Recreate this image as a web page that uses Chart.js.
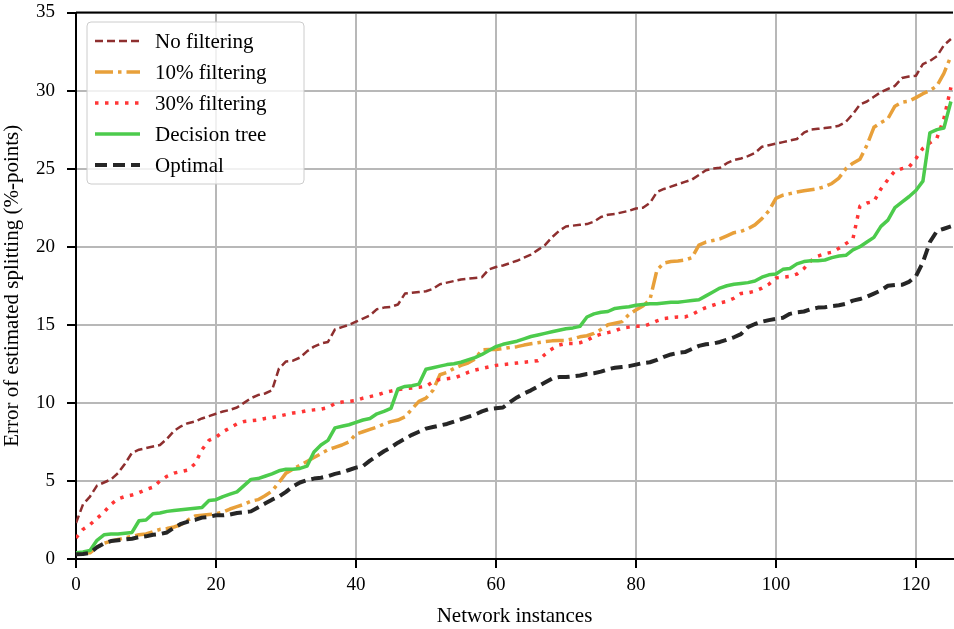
<!DOCTYPE html>
<html>
<head>
<meta charset="utf-8">
<script src="https://cdn.jsdelivr.net/npm/chart.js@4.4.0/dist/chart.umd.min.js"></script>
<style>
  body { margin: 0; background: #fff; }
  .wrap { width: 954px; height: 629px; }
</style>
</head>
<body>
<div class="wrap"><canvas id="myChart"></canvas></div>
<script>
// データ
const noFiltering = [
  2.3, 3.5, 4.0, 4.7, 4.9, 5.1, 5.5, 6.1, 6.8, 7.0,
  7.1, 7.2, 7.3, 7.7, 8.2, 8.5, 8.7, 8.8, 9.0, 9.15,
  9.3, 9.45, 9.55, 9.7, 10.0, 10.3, 10.5, 10.6, 10.8, 12.2,
  12.65, 12.7, 12.9, 13.3, 13.6, 13.8, 13.9, 14.7, 14.85, 15.0,
  15.2, 15.4, 15.6, 16.0, 16.1, 16.15, 16.3, 17.0, 17.05, 17.1,
  17.15, 17.3, 17.6, 17.7, 17.8, 17.9, 17.95, 18.0, 18.05, 18.55,
  18.7, 18.8, 18.95, 19.1, 19.3, 19.5, 19.8, 20.1, 20.6, 21.0,
  21.3, 21.35, 21.4, 21.45, 21.6, 21.9, 22.05, 22.1, 22.2, 22.3,
  22.45, 22.5, 22.8, 23.5, 23.7, 23.85, 24.0, 24.15, 24.3, 24.6,
  24.9, 25.0, 25.05, 25.35, 25.55, 25.65, 25.8, 26.0, 26.4, 26.5,
  26.6, 26.7, 26.8, 26.9, 27.3, 27.5, 27.55, 27.6, 27.65, 27.75,
  28.0, 28.5, 29.1, 29.3, 29.6, 29.9, 30.1, 30.3, 30.8, 30.9,
  30.95, 31.7, 31.9, 32.2, 32.9, 33.3
];
const filtering10 = [
  0.35, 0.38, 0.4, 0.75, 1.0, 1.15, 1.25, 1.35, 1.45, 1.55,
  1.6, 1.75, 1.9, 1.95, 2.05, 2.2, 2.5, 2.75, 2.8, 2.85,
  2.9, 3.0, 3.2, 3.35, 3.5, 3.7, 3.8, 4.05, 4.35, 4.9,
  5.5, 5.75, 6.0, 6.25, 6.5, 6.75, 7.0, 7.15, 7.3, 7.5,
  8.0, 8.15, 8.3, 8.45, 8.65, 8.8, 8.9, 9.1, 9.6, 10.1,
  10.3, 10.8, 11.8, 11.95, 12.2, 12.4, 12.55, 12.8, 13.4, 13.42,
  13.42, 13.48, 13.55, 13.6, 13.7, 13.78, 13.85, 13.92, 13.97, 14.0,
  14.0, 14.1, 14.23, 14.3, 14.45, 14.7, 15.0, 15.1, 15.2, 15.65,
  15.95, 16.2, 16.6, 18.5, 18.95, 19.05, 19.08, 19.15, 19.3, 20.1,
  20.3, 20.4, 20.5, 20.7, 20.9, 20.98, 21.15, 21.4, 21.8, 22.3,
  23.1, 23.3, 23.4, 23.5, 23.58, 23.65, 23.72, 23.85, 24.05, 24.4,
  25.0, 25.35, 25.6, 26.5, 27.65, 27.95, 28.2, 29.0, 29.25, 29.32,
  29.55, 29.8, 30.0, 30.3, 31.1, 32.2
];
const filtering30 = [
  1.35, 1.9, 2.2, 2.6, 3.0, 3.5, 3.85, 4.0, 4.1, 4.25,
  4.45, 4.6, 5.0, 5.3, 5.5, 5.6, 5.7, 6.1, 7.0, 7.6,
  7.8, 8.15, 8.4, 8.65, 8.8, 8.85, 8.9, 9.0, 9.05, 9.15,
  9.25, 9.35, 9.4, 9.5, 9.55, 9.6, 9.7, 9.95, 10.05, 10.1,
  10.15, 10.3, 10.4, 10.5, 10.65, 10.75, 10.85, 10.9, 10.95, 11.0,
  11.05, 11.35, 11.5, 11.55, 11.6, 11.75, 11.95, 12.1, 12.2, 12.3,
  12.4, 12.45, 12.5, 12.55, 12.6, 12.65, 12.7, 13.1, 13.45, 13.7,
  13.8, 13.8, 13.85, 14.0, 14.25, 14.4, 14.5, 14.6, 14.8, 14.85,
  14.9, 14.9, 15.05, 15.25, 15.4, 15.45, 15.5, 15.5, 15.65, 15.9,
  16.1, 16.25, 16.4, 16.5, 16.7, 17.0, 17.05, 17.15, 17.35, 17.6,
  18.0, 18.05, 18.1, 18.25, 18.6, 19.1, 19.4, 19.55, 19.65, 19.9,
  20.2, 20.5, 22.6, 22.8, 22.9, 23.7, 24.3, 24.85, 25.0, 25.1,
  25.65, 26.3, 26.65, 26.95, 28.2, 30.2
];
const decisionTree = [
  0.4, 0.45, 0.55, 1.2, 1.55, 1.6, 1.6, 1.65, 1.7, 2.45,
  2.5, 2.9, 2.95, 3.05, 3.1, 3.15, 3.2, 3.25, 3.3, 3.75,
  3.8, 4.0, 4.15, 4.3, 4.7, 5.1, 5.15, 5.3, 5.45, 5.65,
  5.75, 5.75, 5.8, 5.95, 6.85, 7.3, 7.6, 8.4, 8.5, 8.6,
  8.75, 8.9, 9.0, 9.3, 9.45, 9.65, 10.9, 11.05, 11.1, 11.2,
  12.15, 12.25, 12.35, 12.45, 12.5, 12.6, 12.75, 12.9, 13.1, 13.35,
  13.6, 13.75, 13.85, 13.95, 14.1, 14.25, 14.35, 14.45, 14.55, 14.65,
  14.75, 14.8, 14.9, 15.5, 15.7, 15.8, 15.85, 16.05, 16.1, 16.15,
  16.25, 16.3, 16.35, 16.35, 16.4, 16.45, 16.45, 16.5, 16.55, 16.6,
  16.85, 17.1, 17.35, 17.5, 17.6, 17.65, 17.7, 17.8, 18.05, 18.2,
  18.25, 18.55, 18.6, 18.9, 19.05, 19.1, 19.1, 19.15, 19.3, 19.4,
  19.45, 19.8, 20.0, 20.3, 20.6, 21.3, 21.7, 22.5, 22.85, 23.2,
  23.6, 24.2, 27.3, 27.5, 27.6, 29.3
];
const optimal = [
  0.3, 0.32, 0.38, 0.75, 1.0, 1.15, 1.2, 1.25, 1.3, 1.4,
  1.45, 1.55, 1.6, 1.7, 2.0, 2.25, 2.4, 2.5, 2.65, 2.7,
  2.8, 2.8, 2.85, 2.95, 3.0, 3.05, 3.3, 3.55, 3.8, 4.0,
  4.3, 4.65, 4.9, 5.05, 5.15, 5.2, 5.3, 5.45, 5.55, 5.7,
  5.85, 5.95, 6.3, 6.6, 6.9, 7.15, 7.45, 7.7, 7.95, 8.15,
  8.35, 8.45, 8.55, 8.65, 8.8, 8.95, 9.1, 9.25, 9.45, 9.6,
  9.65, 9.7, 10.05, 10.35, 10.6, 10.8, 11.05, 11.3, 11.55, 11.65,
  11.65, 11.7, 11.75, 11.85, 11.9, 12.0, 12.15, 12.25, 12.3, 12.35,
  12.45, 12.55, 12.6, 12.75, 12.95, 13.1, 13.2, 13.25, 13.45, 13.65,
  13.75, 13.8, 13.9, 14.05, 14.2, 14.4, 14.85, 15.05, 15.2, 15.3,
  15.38, 15.45, 15.7, 15.8, 15.85, 16.0, 16.1, 16.12, 16.2, 16.25,
  16.35, 16.55, 16.65, 16.8, 17.0, 17.2, 17.5, 17.55, 17.56, 17.75,
  18.1, 19.0, 20.3, 21.0, 21.15, 21.3
];

const seriesNames = ['No filtering', '10% filtering', '30% filtering', 'Decision tree', 'Optimal'];
const instances = noFiltering.map((v, i) => i);
const xTicks = [0, 20, 40, 60, 80, 100, 120];
const yTicks = [0, 5, 10, 15, 20, 25, 30, 35];

function points(values) {
  return values.map((v, i) => ({ x: instances[i], y: v }));
}

Chart.defaults.font.family = "'Liberation Serif', 'DejaVu Serif', serif";
Chart.defaults.color = '#000';

// 凡例（プロット内の左上に枠付きで描く）と上の枠線
const boxLegend = {
  id: 'boxLegend',
  afterDraw(chart) {
    const c = chart.ctx;
    const area = chart.chartArea;
    c.save();
    c.strokeStyle = '#000';
    c.lineWidth = 2;
    c.beginPath();
    c.moveTo(area.left, area.top);
    c.lineTo(area.right, area.top);
    c.stroke();

    const bx = area.left + 11, by = area.top + 9.5, bw = 217, bh = 162;
    c.beginPath();
    c.roundRect(bx, by, bw, bh, 4);
    c.fillStyle = 'rgba(255,255,255,0.8)';
    c.fill();
    c.strokeStyle = '#cccccc';
    c.lineWidth = 1;
    c.stroke();

    c.font = "21px 'Liberation Serif', 'DejaVu Serif', serif";
    c.textBaseline = 'middle';
    chart.data.datasets.forEach((ds, i) => {
      const rowY = by + 19 + i * 31;
      c.beginPath();
      c.setLineDash(ds.borderDash || []);
      c.strokeStyle = ds.borderColor;
      c.lineWidth = ds.borderWidth;
      c.moveTo(bx + 8, rowY);
      c.lineTo(bx + 53, rowY);
      c.stroke();
      c.setLineDash([]);
      c.fillStyle = '#000';
      c.fillText(ds.label, bx + 68, rowY + 1);
    });
    c.restore();
  }
};

var ctx = document.getElementById('myChart').getContext('2d');
new Chart(ctx, {
  type: 'line',
  data: {
    datasets: [
      {
        label: seriesNames[0],
        data: points(noFiltering),
        borderColor: '#8e2f2f',
        borderWidth: 2.5,
        borderDash: [8, 4],
        order: 5,
      },
      {
        label: seriesNames[1],
        data: points(filtering10),
        borderColor: '#e8a03a',
        borderWidth: 3.5,
        borderDash: [18, 5, 3.5, 5],
        order: 4,
      },
      {
        label: seriesNames[2],
        data: points(filtering30),
        borderColor: '#ff3535',
        borderWidth: 3.5,
        borderDash: [3.5, 6.5],
        order: 3,
      },
      {
        label: seriesNames[3],
        data: points(decisionTree),
        borderColor: '#4ccb4c',
        borderWidth: 3.5,
        order: 2,
      },
      {
        label: seriesNames[4],
        data: points(optimal),
        borderColor: '#262626',
        borderWidth: 4,
        borderDash: [12, 6],
        order: 1,
      },
    ]
  },
  options: {
    responsive: true,
    maintainAspectRatio: false,
    animation: false,
    layout: {
      padding: { top: 12.5, right: 1, left: 0, bottom: 0 }
    },
    elements: {
      point: { radius: 0 },
      line: { tension: 0, fill: false, borderJoinStyle: 'round' }
    },
    scales: {
      x: {
        type: 'linear',
        min: 0,
        max: 125.3,
        afterBuildTicks: (scale) => { scale.ticks = xTicks.map(v => ({ value: v })); },
        afterFit: (scale) => { scale.height = 70; },
        ticks: { font: { size: 19 }, padding: 6 },
        grid: { color: '#b8b8b8', lineWidth: 2, tickLength: 9, tickColor: '#000', tickWidth: 2 },
        border: { color: '#000', width: 2 },
        title: {
          display: true,
          text: 'Network instances',
          font: { size: 21 },
          padding: { top: 0, bottom: 0 }
        }
      },
      y: {
        min: 0,
        max: 35,
        afterBuildTicks: (scale) => { scale.ticks = yTicks.map(v => ({ value: v })); },
        // 上下の余白はレイアウト側で決める
        afterFit: (scale) => { scale.width = 76; scale.paddingTop = 0; scale.paddingBottom = 0; },
        ticks: { font: { size: 19 }, padding: 12 },
        grid: { color: '#b8b8b8', lineWidth: 2, tickLength: 9, tickColor: '#000', tickWidth: 2 },
        border: { color: '#000', width: 2 },
        title: {
          display: true,
          text: 'Error of estimated splitting (%-points)',
          font: { size: 21 },
          padding: { top: 0, bottom: 0 }
        }
      }
    },
    plugins: {
      legend: { display: false },
      tooltip: { enabled: false },
    },
  },
  plugins: [boxLegend],
});
</script>
</body>
</html>
